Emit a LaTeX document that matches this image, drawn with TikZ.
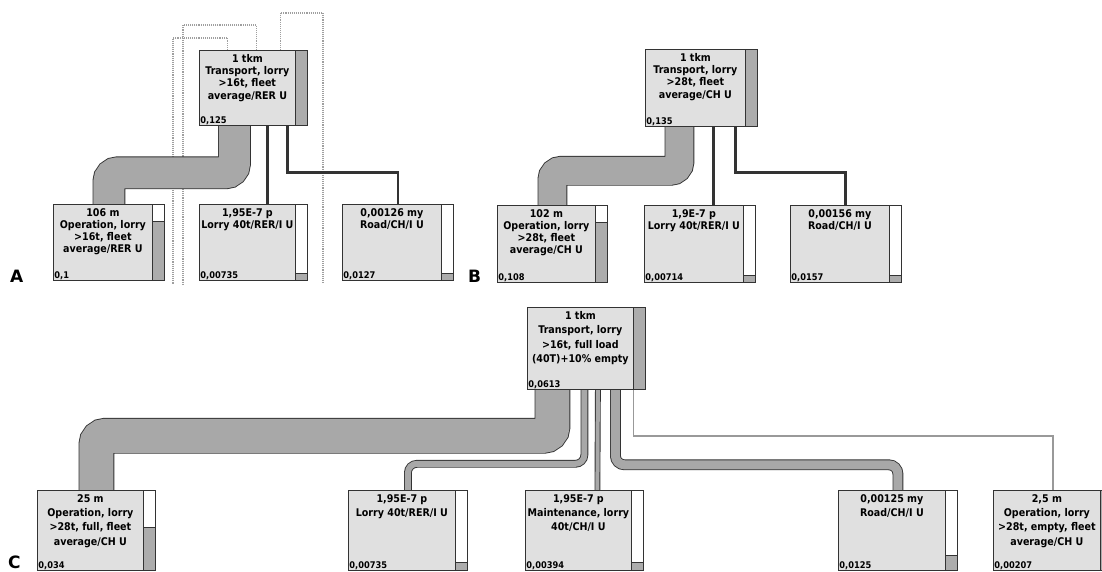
\documentclass[tikz,border=0pt]{standalone}
\usepackage{fontspec}
\setmainfont{DejaVu Sans Condensed}
\newfontfamily\lblfont{DejaVu Sans}
\usetikzlibrary{calc}
\pgfdeclarelayer{bg}
\pgfsetlayers{bg,main}
\tikzset{
  pbox/.style={draw=black!80, fill=gray!24, line width=0.8pt, rectangle, inner sep=0pt},
  ptext/.style={align=center, inner sep=0pt, font=\bfseries\fontsize{10.6}{12.3}\selectfont},
  ptextc/.style={align=center, inner sep=0pt, font=\bfseries\fontsize{10.6}{14.4}\selectfont},
  pval/.style={inner sep=1.2pt, font=\bfseries\fontsize{9.2}{10}\selectfont},
  darkbar/.style={draw=black!80, fill=gray!65, line width=0.7pt},
  whitebar/.style={draw=black!80, fill=white, line width=0.7pt},
  flowo/.style={draw=black!80, rounded corners=9pt, line cap=butt},
  flowi/.style={draw=gray!68, rounded corners=9pt, line cap=butt},
  thin flow/.style={draw=black!80, line cap=butt},
  loopline/.style={draw=gray!75, densely dotted, line width=1.1pt},
  emptyline/.style={draw=gray!80, line width=1.6pt},
  panel/.style={font=\lblfont\bfseries\fontsize{17}{17}\selectfont, inner sep=0pt}
}
% #1 name, #2 x, #3 y, #4 w, #5 h, #6 style of text, #7 text, #8 value, #9 white top height
\newcommand\pbx[9]{%
  \node[pbox, minimum width=#4, minimum height=#5, anchor=north west] (#1) at (#2,#3) {};
  \node[#6, anchor=north] (#1t) at ([xshift=-6pt,yshift=-4pt]#1.north) {#7};
  \node[pval, anchor=south west] (#1v) at (#1.south west) {#8};
  \path[whitebar] ([xshift=-12pt]#1.north east) rectangle (#1.south east);
  \path[darkbar] ([xshift=-12pt,yshift=-#9pt]#1.north east) rectangle (#1.south east);
}
\newcommand\flow[2]{%
  \draw[flowo, line width=#1pt+1.8pt] #2;
  \draw[flowi, line width=#1pt] #2;
}
\begin{document}
\begin{tikzpicture}[x=1pt,y=-1pt]
\useasboundingbox (0,0) rectangle (1102,572);

% loop coordinates
\coordinate (lA1) at (173,284);
\coordinate (lA2) at (183,284);
\coordinate (lA3) at (323,284);

% Panel A boxes
\pbx{topA}{199}{50}{108}{75}{ptext}{1 tkm\\Transport, lorry\\>16t, fleet\\average/RER U}{0,125}{0}
\pbx{opA}{53}{204}{111}{76}{ptext}{106 m\\Operation, lorry\\>16t, fleet\\average/RER U}{0,1}{17}
\pbx{lorA}{199}{204}{108}{76}{ptext}{1,95E-7 p\\Lorry 40t/RER/I U}{0,00735}{69}
\pbx{roadA}{342}{204}{111}{76}{ptext}{0,00126 my\\Road/CH/I U}{0,0127}{69}

% Panel B boxes
\pbx{topB}{645}{49}{112}{77}{ptext}{1 tkm\\Transport, lorry\\>28t, fleet\\average/CH U}{0,135}{0}
\pbx{opB}{497}{205}{110}{77}{ptext}{102 m\\Operation, lorry\\>28t, fleet\\average/CH U}{0,108}{17}
\pbx{lorB}{644}{205}{111}{77}{ptext}{1,9E-7 p\\Lorry 40t/RER/I U}{0,00714}{70}
\pbx{roadB}{790}{205}{111}{77}{ptext}{0,00156 my\\Road/CH/I U}{0,0157}{70}

% Panel C boxes
\pbx{topC}{527}{307}{118}{82}{ptextc}{1 tkm\\Transport, lorry\\>16t, full load\\(40T)+10\% empty}{0,0613}{0}
\pbx{opC}{37}{490}{118}{80}{ptextc}{25 m\\Operation, lorry\\>28t, full, fleet\\average/CH U}{0,034}{37}
\pbx{lorC}{348}{490}{119}{80}{ptextc}{1,95E-7 p\\Lorry 40t/RER/I U}{0,00735}{72}
\pbx{mC}{525}{490}{118}{80}{ptextc}{1,95E-7 p\\Maintenance, lorry\\40t/CH/I U}{0,00394}{72}
\pbx{roadC}{838}{490}{119}{80}{ptextc}{0,00125 my\\Road/CH/I U}{0,0125}{65}
\pbx{emC}{993}{490}{119}{80}{ptextc}{2,5 m\\Operation, lorry\\>28t, empty, fleet\\average/CH U}{0,00207}{0}

% ---------- connectors (behind boxes) ----------
\begin{pgfonlayer}{bg}
% A
\draw[loopline] ([xshift=-26pt]topA.north) -- ++(0,-12) -| (lA1);
\draw[loopline] ([xshift=3pt]topA.north) -- ++(0,-25) -| (lA2);
\draw[loopline] ([xshift=27pt]topA.north) -- ++(0,-37) -| (lA3);
\flow{31}{([xshift=-19pt]topA.south) -- ++(0,47) -| (opA.north)}
\draw[thin flow, line width=2.2pt] ([xshift=14pt]topA.south) -- ([xshift=14pt]lorA.north);
\draw[thin flow, line width=2.6pt] ([xshift=34pt]topA.south) -- ++(0,47) -| (roadA.north);
% B
\flow{28}{([xshift=-22pt]topB.south) -- ++(0,44) -| (opB.north)}
\draw[thin flow, line width=2.2pt] ([xshift=12pt]topB.south) -- ([xshift=13.5pt]lorB.north);
\draw[thin flow, line width=3pt] ([xshift=34pt]topB.south) -- ++(0,46) -| (roadB.north);
% C
\flow{34}{([xshift=-34pt]topC.south) -- ++(0,46) -| (opC.north)}
\flow{6}{([xshift=-2pt]topC.south) -- ++(0,74) -| (lorC.north)}
\flow{4}{([xshift=11.5pt]topC.south) -- ([xshift=13pt]mC.north)}
\flow{9}{([xshift=29pt]topC.south) -- ++(0,75) -| (roadC.north)}
\draw[emptyline] ([xshift=47pt]topC.south) -- ++(0,46) -| (emC.north);
\end{pgfonlayer}

% ---------- panel labels ----------
\node[panel, anchor=base west] (labA) at (10,282) {A};
\node[panel, anchor=base west] (labB) at (468,282) {B};
\node[panel, anchor=base west] (labC) at (8,568) {C};
\end{tikzpicture}
\end{document}
